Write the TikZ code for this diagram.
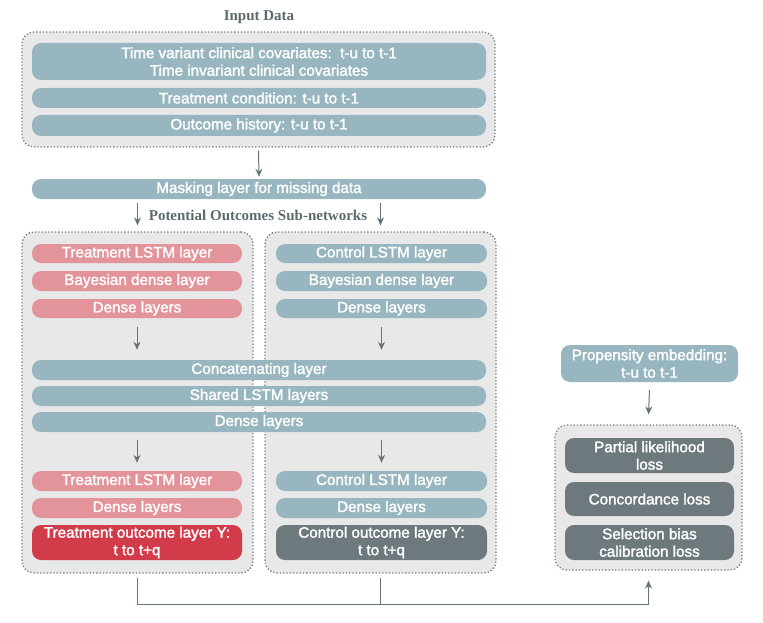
\documentclass[tikz,border=0pt]{standalone}
\usepackage{fontspec}
\setmainfont{Liberation Sans}
\newfontfamily\barfont[FakeBold=1.8]{Liberation Sans}
\newfontfamily\titlefont{Liberation Serif}
\usepackage{xcolor}
\usetikzlibrary{arrows.meta, positioning, calc}

\definecolor{barteal}{HTML}{97B6BF}
\definecolor{barpink}{HTML}{E3939A}
\definecolor{barred}{HTML}{D23C4A}
\definecolor{bargray}{HTML}{6D797D}
\definecolor{panelfill}{HTML}{E8E8E9}
\definecolor{panelline}{HTML}{6F7F86}
\definecolor{arrowgray}{HTML}{657479}
\definecolor{titlegray}{HTML}{5C6A70}

\begin{document}
\begin{tikzpicture}[
    x=1pt, y=-1pt,
    >={Stealth[length=8pt, width=7pt]},
    panel/.style = {draw=panelline, dotted, line width=1.3pt, fill=panelfill, rounded corners=12pt, inner sep=0pt},
    bar/.style   = {fill=barteal, rounded corners=9pt, text=white, align=center, inner sep=0pt,
                    font=\barfont\fontsize{15.2}{17.5}\selectfont},
    pinkbar/.style = {bar, fill=barpink},
    title/.style = {text=titlegray, font=\titlefont\bfseries\fontsize{15}{18}\selectfont},
    arr/.style   = {->, draw=arrowgray, line width=1pt}
]
    \useasboundingbox (0,0) rectangle (763,623);

    % input data
    \node[title] (inputtitle) at (259,17) {Input Data};
    \node[panel, minimum width=473pt, minimum height=115pt] (inputbox) at (258.5,89.5) {};
    \node[bar, minimum width=454pt, minimum height=37pt] (covars) at (259,61.5)
        {Time variant clinical covariates:\ \ t-u to t-1\\Time invariant clinical covariates};
    \node[bar, minimum width=454pt, minimum height=20pt] (treatcond) at (259,98) {Treatment condition: t-u to t-1};
    \node[bar, minimum width=454pt, minimum height=21pt] (outhist) at (259,125.5) {Outcome history: t-u to t-1};

    \node[bar, minimum width=454pt, minimum height=20pt] (masking) at (259,189) {Masking layer for missing data};
    \draw[arr] ([yshift=-3pt]inputbox.south) -- ([yshift=2pt]masking.north);

    % sub-networks
    \node[title] (subtitle) at (258,215) {Potential Outcomes Sub-networks};
    \node[panel, minimum width=231pt, minimum height=341pt] (treatbox) at (137.5,402.5) {};
    \node[panel, minimum width=231pt, minimum height=341pt] (ctrlbox) at (380.5,402.5) {};
    \draw[arr] ([yshift=-4pt]masking.south -| treatbox.north) -- ([yshift=6pt]treatbox.north);
    \draw[arr] ([yshift=-4pt]masking.south -| ctrlbox.north) -- ([yshift=6pt]ctrlbox.north);

    \node[pinkbar, minimum width=210pt, minimum height=19pt] (tlstm) at (137,253.5) {Treatment LSTM layer};
    \node[pinkbar, minimum width=210pt, minimum height=20pt] (tbayes) at (137,281) {Bayesian dense layer};
    \node[pinkbar, minimum width=210pt, minimum height=19pt] (tdense) at (137,308.5) {Dense layers};

    \node[bar, minimum width=211pt, minimum height=19pt] (clstm) at (381.5,253.5) {Control LSTM layer};
    \node[bar, minimum width=211pt, minimum height=20pt] (cbayes) at (381.5,281) {Bayesian dense layer};
    \node[bar, minimum width=211pt, minimum height=19pt] (cdense) at (381.5,308.5) {Dense layers};

    \node[bar, minimum width=454pt, minimum height=20pt] (concat) at (259,370) {Concatenating layer};
    \node[bar, minimum width=454pt, minimum height=20pt] (shared) at (259,396) {Shared LSTM layers};
    \node[bar, minimum width=454pt, minimum height=20pt] (sdense) at (259,422) {Dense layers};
    \draw[arr] ([yshift=-9pt]tdense.south) -- ([yshift=10pt]tdense.south |- concat.north);
    \draw[arr] ([yshift=-9pt]cdense.south) -- ([yshift=10pt]cdense.south |- concat.north);

    \node[pinkbar, minimum width=210pt, minimum height=20pt] (tlstmb) at (137,481) {Treatment LSTM layer};
    \node[pinkbar, minimum width=210pt, minimum height=20pt] (tdenseb) at (137,508) {Dense layers};
    \node[bar, fill=barred, minimum width=210pt, minimum height=35pt] (tout) at (137,542.5)
        {Treatment outcome layer Y:\\t to t+q};

    \node[bar, minimum width=211pt, minimum height=20pt] (clstmb) at (381.5,481) {Control LSTM layer};
    \node[bar, minimum width=211pt, minimum height=20pt] (cdenseb) at (381.5,508) {Dense layers};
    \node[bar, fill=bargray, minimum width=211pt, minimum height=35pt] (cout) at (381.5,542.5)
        {Control outcome layer Y:\\t to t+q};

    \draw[arr] ([yshift=-8pt]sdense.south -| tlstmb.north) -- ([yshift=8pt]tlstmb.north);
    \draw[arr] ([yshift=-8pt]sdense.south -| clstmb.north) -- ([yshift=8pt]clstmb.north);

    % propensity and losses
    \node[bar, minimum width=177pt, minimum height=37pt] (prop) at (649.5,363.5)
        {Propensity embedding:\\t-u to t-1};
    \node[panel, minimum width=187pt, minimum height=145pt] (lossbox) at (648.5,497.5) {};
    \node[bar, fill=bargray, minimum width=169pt, minimum height=35pt] (plloss) at (649.5,455.5)
        {Partial likelihood\\loss};
    \node[bar, fill=bargray, minimum width=169pt, minimum height=34pt] (concloss) at (649.5,499) {Concordance loss};
    \node[bar, fill=bargray, minimum width=169pt, minimum height=35pt] (selloss) at (649.5,542.5)
        {Selection bias\\calibration loss};
    \draw[arr] ([yshift=-8pt]prop.south) -- ([yshift=10pt]lossbox.north);

    % outputs to losses
    \coordinate (bus) at (259,604);
    \draw[arr] ([yshift=-4pt]treatbox.south) |- (lossbox.south |- bus) -- ([yshift=-10pt]lossbox.south);
    \draw[draw=arrowgray, line width=1pt] ([yshift=-4pt]ctrlbox.south) -- (ctrlbox.south |- bus);
\end{tikzpicture}
\end{document}
